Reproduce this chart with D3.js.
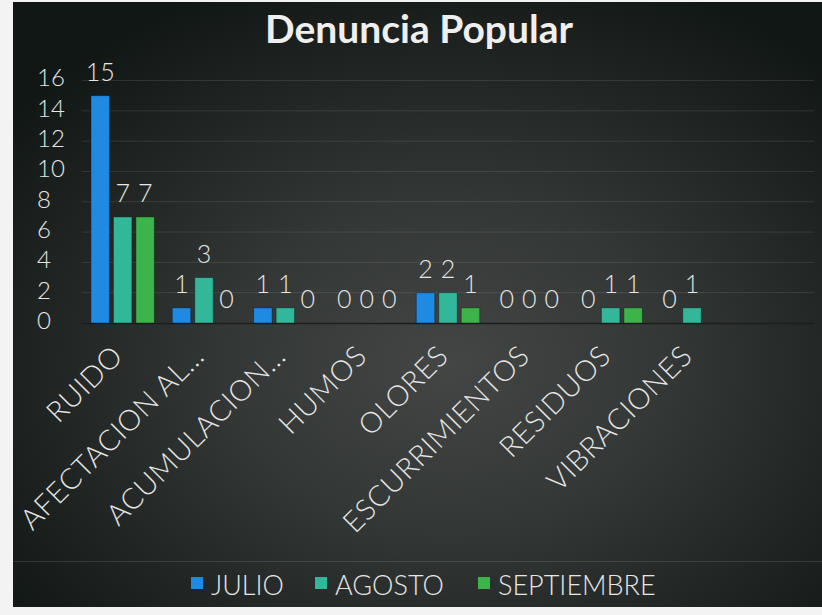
<!DOCTYPE html>
<html><head><meta charset="utf-8">
<script src="https://cdn.jsdelivr.net/npm/d3@7"></script>
<style>
html,body{margin:0;padding:0;background:#f3f3f3;}
svg{display:block;}
text{font-family:Lato,"Open Sans",sans-serif;font-weight:300;}
</style></head>
<body>
<svg id="chart" width="822" height="615"></svg>
<script>
const categories = ["RUIDO","AFECTACION AL…","ACUMULACION…","HUMOS","OLORES","ESCURRIMIENTOS","RESIDUOS","VIBRACIONES",""];
const seriesNames = ["JULIO","AGOSTO","SEPTIEMBRE"];
const julio      = [15,1,1,0,2,0,0,0,null];
const agosto     = [7,3,1,0,2,0,1,1,null];
const septiembre = [7,0,0,0,1,0,1,null,null];
const yTicks = [0,2,4,6,8,10,12,14,16];
const colors = ["#1e8ae2","#33b79b","#3cb449"];

const seriesValues = [julio, agosto, septiembre];
const svg = d3.select("#chart");

// background
const defs = svg.append("defs");
const grad = defs.append("radialGradient").attr("id","bg")
  .attr("cx","54%").attr("cy","60%").attr("r","68%");
grad.append("stop").attr("offset","0%").attr("stop-color","#434644");
grad.append("stop").attr("offset","40%").attr("stop-color","#333735");
grad.append("stop").attr("offset","100%").attr("stop-color","#111715");
svg.append("rect").attr("x",13).attr("y",2).attr("width",809).attr("height",605).attr("fill","url(#bg)");

const x0 = d3.scaleBand().domain(categories).range([82,814]).paddingInner(0.22).paddingOuter(0.11);
const x1 = d3.scaleBand().domain(seriesNames).range([0,x0.bandwidth()]).paddingInner(0.178);
const y = d3.scaleLinear().domain([0,16]).range([323,80.5]);

// grid
svg.append("g").selectAll("line").data(yTicks.filter(d=>d>0)).join("line")
  .attr("x1",82).attr("x2",814).attr("y1",d=>y(d)).attr("y2",d=>y(d))
  .attr("stroke","rgba(255,255,255,0.10)").attr("stroke-width",1);
svg.append("line").attr("x1",82).attr("x2",814).attr("y1",y(0)+0.5).attr("y2",y(0)+0.5)
  .attr("stroke","#1c1f1e").attr("stroke-width",1.5);

// y axis labels
const yAxis = d3.axisLeft(y).tickValues(yTicks).tickSize(0).tickPadding(0);
const yg = svg.append("g").attr("transform","translate(37,0)").call(yAxis);
yg.select(".domain").remove();
yg.selectAll("text").attr("text-anchor","start").attr("x",0).attr("dy","0.33em")
  .attr("fill","#e6e6e6").style("font-size","24px").style("font-family","Lato,sans-serif").style("font-weight","300");
yg.selectAll(".tick").attr("transform",d=>`translate(0,${y(d)-2})`);

// bars
const flat = [];
categories.forEach((c,i)=>seriesNames.forEach((s,j)=>{
  const v = seriesValues[j][i];
  if (v !== null) flat.push({c,s,v,j});
}));
svg.append("g").selectAll("rect").data(flat.filter(d=>d.v>0)).join("rect")
  .attr("x",d=>x0(d.c)+x1(d.s)).attr("width",x1.bandwidth())
  .attr("y",d=>y(d.v)).attr("height",d=>y(0)-y(d.v))
  .attr("fill",d=>colors[d.j]).attr("stroke","rgba(0,0,0,0.35)").attr("stroke-width",1);

// data labels
svg.append("g").selectAll("text").data(flat).join("text")
  .attr("x",d=>x0(d.c)+x1(d.s)+x1.bandwidth()/2).attr("y",d=>y(d.v)-15)
  .attr("text-anchor","middle").attr("fill","#e6e6e6").style("font-size","25px")
  .text(d=>d.v);

// x labels
const xAxis = d3.axisBottom(x0).tickSize(0).tickPadding(0);
const xg = svg.append("g").call(xAxis);
xg.select(".domain").remove();
xg.selectAll(".tick").attr("transform",d=>`translate(${x0(d)+x0.bandwidth()/2+2},358)`);
xg.selectAll("text").attr("y",0).attr("dy",0).attr("text-anchor","end")
  .attr("transform","rotate(-45)").attr("fill","#e6e6e6")
  .style("font-size","29px").style("font-family","Lato,sans-serif").style("font-weight","300")
  .style("letter-spacing","0.5px");

// faint line above legend
svg.append("line").attr("x1",13).attr("x2",822).attr("y1",561.5).attr("y2",561.5)
  .attr("stroke","rgba(255,255,255,0.12)").attr("stroke-width",1);

// legend
const legendX = [191,315,478];
const lg = svg.append("g").selectAll("g").data(seriesNames).join("g")
  .attr("transform",(d,i)=>`translate(${legendX[i]},0)`);
lg.append("rect").attr("x",0).attr("y",577).attr("width",12).attr("height",12).attr("fill",(d,i)=>colors[i]);
lg.append("text").attr("x",20).attr("y",595).attr("fill","#e6e6e6").style("font-size","27px").text(d=>d);

// title
svg.append("text").attr("x",419).attr("y",43).attr("text-anchor","middle")
  .attr("fill","#efefef").style("font-size","39px").style("font-weight","700")
  .text("Denuncia Popular");
</script>
</body></html>
